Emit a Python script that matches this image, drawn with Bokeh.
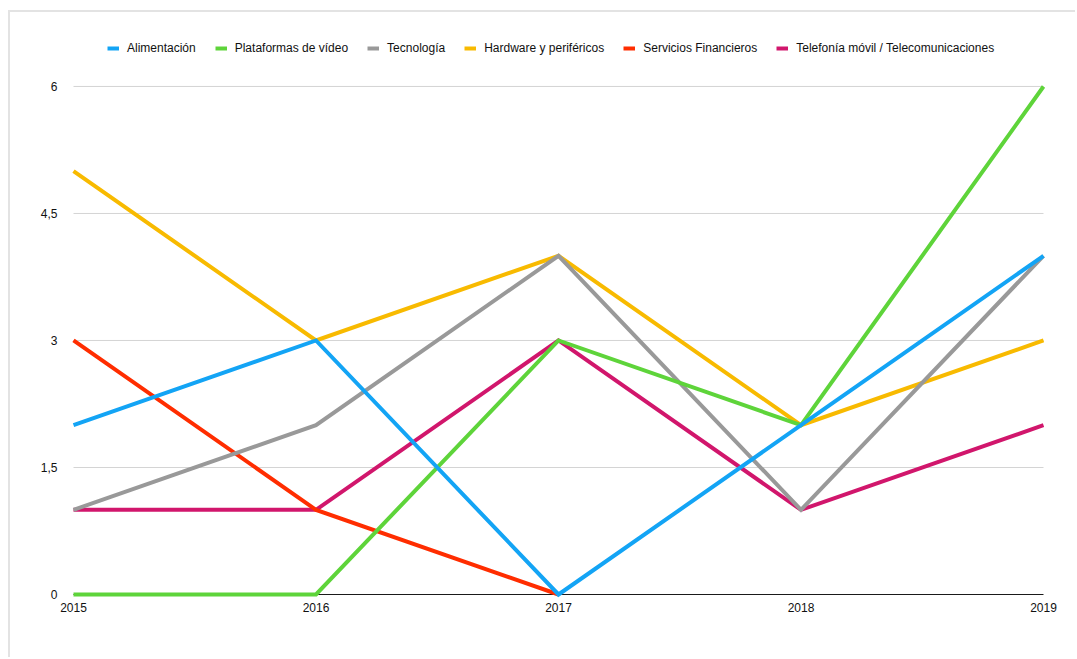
from bokeh.plotting import figure
from bokeh.models import Range1d, FixedTicker, Legend, LegendItem
from bokeh.embed import file_html
from bokeh.resources import INLINE

years = [2015, 2016, 2017, 2018, 2019]
nan = float("nan")
series_names = ["Alimentación", "Plataformas de vídeo", "Tecnología",
                "Hardware y periféricos", "Servicios Financieros",
                "Telefonía móvil / Telecomunicaciones"]
alimentacion = [2, 3, 0, 2, 4]
plataformas = [0, 0, 3, 2, 6]
tecnologia = [1, 2, 4, 1, 4]
hardware = [5, 3, 4, 2, 3]
financieros = [3, 1, 0, nan, nan]
telefonia = [1, 1, 3, 1, 2]
series_values = [alimentacion, plataformas, tecnologia, hardware, financieros, telefonia]
colors = ["#13a4f5", "#5ed43a", "#999999", "#f8ba00", "#ff2d00", "#d1166c"]
y_ticks = [0, 1.5, 3, 4.5, 6]
y_tick_labels = ["0", "1,5", "3", "4,5", "6"]

FONT = "Liberation Sans"

p = figure(width=1067, height=647, output_backend="svg", toolbar_location=None,
           x_range=Range1d(2015 - 0.0165, 2019 + 0.0165),
           y_range=Range1d(-0.0472, 6.779),
           min_border_left=59, min_border_right=30, min_border_top=8, min_border_bottom=61)
p.styles = {"margin-left": "8px", "margin-top": "10px",
            "border-left": "2px solid #e3e3e3", "border-top": "2px solid #e3e3e3"}
p.outline_line_color = None
p.grid.visible = False
p.background_fill_color = "white"
p.border_fill_color = "white"

# gridlines
grid_y = [t for t in y_ticks if t != 0]
p.segment(x0=[years[0]] * len(grid_y), x1=[years[-1]] * len(grid_y), y0=grid_y, y1=grid_y,
          line_color="#d4d4d4", line_width=1)
p.segment(x0=[years[0]], x1=[years[-1]], y0=[0], y1=[0], line_color="#1a1a1a", line_width=1)

renderers = [None] * len(series_names)
for i in reversed(range(len(series_names))):
    renderers[i] = p.line(years, series_values[i], line_color=colors[i], line_width=4,
                          line_join="miter")

legend = Legend(items=[LegendItem(label=series_names[i], renderers=[renderers[i]])
                       for i in range(len(series_names))],
                orientation="horizontal", location=(38, 540),
                glyph_width=12, glyph_height=20, label_standoff=8, spacing=19,
                margin=0, padding=5, border_line_color=None, background_fill_alpha=0,
                label_text_font=FONT, label_text_font_size="12px", label_text_color="#111111")
p.add_layout(legend, "center")

p.xaxis.ticker = FixedTicker(ticks=years)
p.yaxis.ticker = FixedTicker(ticks=y_ticks)
p.yaxis.major_label_overrides = {t: l for t, l in zip(y_ticks, y_tick_labels)}
for ax in [p.xaxis[0], p.yaxis[0]]:
    ax.axis_line_color = None
    ax.major_tick_line_color = None
    ax.minor_tick_line_color = None
    ax.major_tick_out = 0
    ax.major_tick_in = 0
    ax.major_label_text_font = FONT
    ax.major_label_text_font_size = "12px"
    ax.major_label_text_color = "#111111"
p.xaxis.major_label_standoff = 4
p.yaxis.major_label_standoff = 12

open("out.html", "w").write(file_html(p, INLINE))
